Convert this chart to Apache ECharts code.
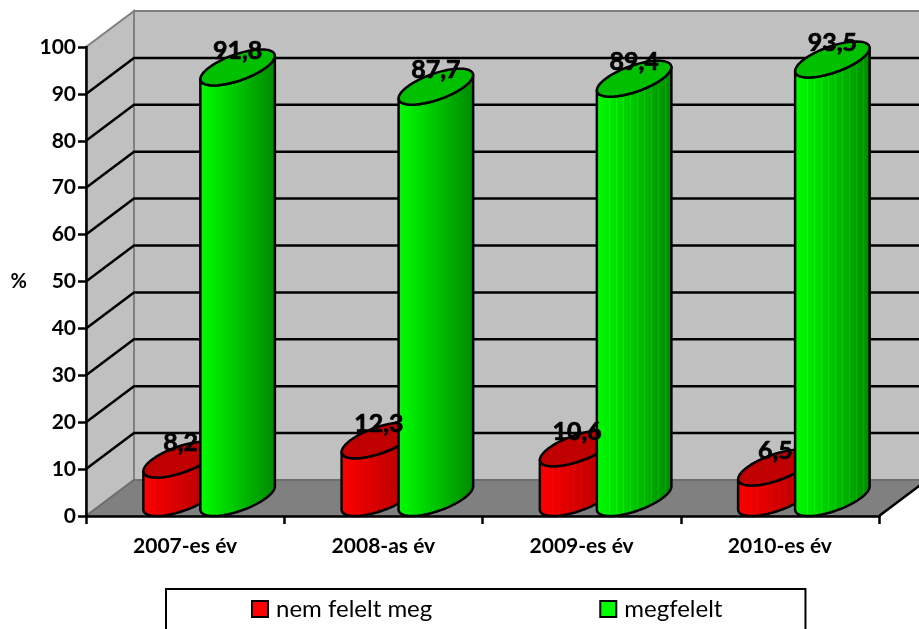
<!DOCTYPE html>
<html>
<head>
<meta charset="utf-8">
<title>Chart</title>
<script src="https://cdn.jsdelivr.net/npm/echarts@6/dist/echarts.min.js"></script>
<style>
  html, body { margin: 0; padding: 0; background: #fff; }
  #chart { width: 919px; height: 629px; }
</style>
</head>
<body>
<div id="chart"></div>
<script>
// adatok
var categories = ['2007-es év', '2008-as év', '2009-es év', '2010-es év'];
var nemFelelt = [8.2, 12.3, 10.6, 6.5];
var megfelelt = [91.8, 87.7, 89.4, 93.5];
var gridValues = [10, 20, 30, 40, 50, 60, 70, 80, 90];

var FONT = 'Lato';
// a 3D doboz melysege pixelben
var DEPTH_X = 48;
var DEPTH_Y = -36;
var AX = 28.5; // henger fel szelessege
var BAR_SHIFT = 28.5;
var LINE_W = 2.5;

var chart = echarts.init(document.getElementById('chart'));

// henger oldala: sotetedo szin, vekony vilagos csikokkal
function stripes(light, dark) {
  var stops = [];
  var n = 11;
  function mix(t) {
    return echarts.color.lerp(Math.max(0, Math.min(1, t)), [light, dark]);
  }
  for (var i = 0; i < n; i++) {
    var a = i / n;
    var b = (i + 1) / n;
    var end = b - 0.008;
    stops.push({ offset: a, color: mix(a) });
    stops.push({ offset: end, color: mix(end) });
    if (i > 0 && i < n - 1) {
      stops.push({ offset: end, color: mix(a - 0.12) });
      stops.push({ offset: b, color: mix(a - 0.12) });
    } else {
      stops.push({ offset: b, color: mix(b) });
    }
  }
  return stops;
}

function arc(cx, cy, from, to) {
  var pts = [];
  var steps = 48;
  for (var i = 0; i <= steps; i++) {
    var t = from + (to - from) * i / steps;
    pts.push([
      cx + AX * Math.cos(t) + (DEPTH_X / 2) * Math.sin(t),
      cy + (DEPTH_Y / 2) * Math.sin(t)
    ]);
  }
  return pts;
}

// henger rajzolasa
function cylinderItem(shift, sideStops, topColor) {
  return function (params, api) {
    var base = api.coord([api.value(0), 0]);
    var top = api.coord([api.value(0), api.value(1)]);
    var cx = base[0] + DEPTH_X / 2 + shift;
    var by = base[1] + DEPTH_Y / 2;
    var ty = top[1] + DEPTH_Y / 2;
    var t0 = Math.atan2(DEPTH_X / 2, AX);
    var side = arc(cx, by, t0, t0 - Math.PI).concat(arc(cx, ty, t0 - Math.PI, t0));
    var lid = arc(cx, ty, 0, Math.PI * 2);
    var line = { stroke: '#000', lineWidth: LINE_W, lineJoin: 'round' };
    return {
      type: 'group',
      children: [{
        type: 'polygon',
        shape: { points: side },
        style: Object.assign({ fill: new echarts.graphic.LinearGradient(0, 0, 1, 0, sideStops) }, line)
      }, {
        type: 'polygon',
        shape: { points: lid },
        style: Object.assign({ fill: topColor }, line)
      }]
    };
  };
}

function labelItem(shift) {
  return function (params, api) {
    var top = api.coord([api.value(0), api.value(1)]);
    return {
      type: 'text',
      style: {
        text: String(api.value(1)).replace('.', ','),
        x: top[0] + DEPTH_X / 2 + shift,
        y: top[1] + DEPTH_Y / 2 - 4,
        align: 'center',
        verticalAlign: 'bottom',
        fontFamily: FONT,
        fontWeight: 'bold',
        fontSize: 25,
        fill: '#000',
        stroke: '#000',
        lineWidth: 0.7
      }
    };
  };
}

function toData(values) {
  return values.map(function (v, i) { return [i, v]; });
}

var option = {
  animation: false,
  textStyle: { fontFamily: FONT },
  grid: { left: 86, right: 40, top: 47, bottom: 113 },
  legend: {
    left: 166,
    top: 589,
    padding: [8, 83, 30, 85],
    itemGap: 167,
    itemWidth: 16,
    itemHeight: 16,
    borderColor: '#000',
    borderWidth: 2,
    textStyle: { fontFamily: FONT, fontSize: 24, color: '#000', padding: [0, 0, 0, 3] },
    data: [
      { name: 'nem felelt meg', icon: 'rect', itemStyle: { color: '#ff0000', borderColor: '#000', borderWidth: 2 } },
      { name: 'megfelelt', icon: 'rect', itemStyle: { color: '#00ff00', borderColor: '#000', borderWidth: 2 } }
    ]
  },
  xAxis: {
    type: 'category',
    data: categories,
    z: 1,
    axisLine: { lineStyle: { color: '#000', width: LINE_W } },
    axisTick: { show: true, length: 8, lineStyle: { color: '#000', width: LINE_W } },
    axisLabel: { color: '#000', fontFamily: FONT, fontWeight: 'bold', fontSize: 21, margin: 20 }
  },
  yAxis: {
    type: 'value',
    min: 0,
    max: 100,
    interval: 10,
    z: 1,
    name: '%',
    nameLocation: 'middle',
    nameRotate: 0,
    nameGap: 59,
    nameTextStyle: { color: '#000', fontFamily: FONT, fontWeight: 'bold', fontSize: 20, padding: [6, 0, 0, 0] },
    splitLine: { show: false },
    axisLine: { show: true, lineStyle: { color: '#000', width: LINE_W } },
    axisTick: { show: true, length: 8, lineStyle: { color: '#000', width: LINE_W } },
    axisLabel: { color: '#000', fontFamily: FONT, fontWeight: 'bold', fontSize: 21, margin: 10, padding: [5, 0, 0, 0] }
  },
  series: [{
    // falak es padlo
    type: 'custom',
    name: 'falak',
    z: 0,
    silent: true,
    data: [[0, 0]],
    encode: { x: 0, y: 1 },
    renderItem: function (params, api) {
      var band = api.size([1, 0])[0];
      var o = api.coord([0, 0]);
      var t = api.coord([0, 100]);
      var left = o[0] - band / 2;
      var right = left + band * categories.length;
      var gray = { stroke: '#808080', lineWidth: 2 };
      return {
        type: 'group',
        children: [{
          type: 'polygon',
          shape: { points: [[left + DEPTH_X, t[1] + DEPTH_Y], [right + DEPTH_X, t[1] + DEPTH_Y], [right + DEPTH_X, o[1] + DEPTH_Y], [left + DEPTH_X, o[1] + DEPTH_Y]] },
          style: Object.assign({ fill: '#c0c0c0' }, gray)
        }, {
          type: 'polygon',
          shape: { points: [[left, t[1]], [left + DEPTH_X, t[1] + DEPTH_Y], [left + DEPTH_X, o[1] + DEPTH_Y], [left, o[1]]] },
          style: Object.assign({ fill: '#c0c0c0' }, gray)
        }, {
          type: 'polygon',
          shape: { points: [[left, o[1]], [left + DEPTH_X, o[1] + DEPTH_Y], [right + DEPTH_X, o[1] + DEPTH_Y], [right, o[1]]] },
          style: { fill: '#808080', stroke: '#6e6e6e', lineWidth: 2 }
        }, {
          type: 'line',
          shape: { x1: right, y1: o[1], x2: right + DEPTH_X, y2: o[1] + DEPTH_Y },
          style: { stroke: '#000', lineWidth: LINE_W }
        }]
      };
    }
  }, {
    // racsvonalak
    type: 'custom',
    name: 'racs',
    z: 0,
    silent: true,
    data: gridValues.map(function (v) { return [0, v]; }),
    encode: { x: 0, y: 1 },
    renderItem: function (params, api) {
      var band = api.size([1, 0])[0];
      var p = api.coord([0, api.value(1)]);
      var left = p[0] - band / 2;
      var right = left + band * categories.length;
      return {
        type: 'polyline',
        z2: 5,
        shape: { points: [[left, p[1]], [left + DEPTH_X, p[1] + DEPTH_Y], [right + DEPTH_X, p[1] + DEPTH_Y]] },
        style: { fill: null, stroke: '#000', lineWidth: LINE_W }
      };
    }
  }, {
    type: 'custom',
    name: 'nem felelt meg',
    z: 2,
    silent: true,
    itemStyle: { color: '#ff0000' },
    data: toData(nemFelelt),
    encode: { x: 0, y: 1 },
    renderItem: cylinderItem(-BAR_SHIFT, stripes('#ff0000', '#a80000'), '#c00000')
  }, {
    type: 'custom',
    name: 'megfelelt',
    z: 3,
    silent: true,
    itemStyle: { color: '#00ff00' },
    data: toData(megfelelt),
    encode: { x: 0, y: 1 },
    renderItem: cylinderItem(BAR_SHIFT, stripes('#00ff00', '#008800'), '#00c000')
  }, {
    type: 'custom',
    name: 'cimke1',
    z: 4,
    silent: true,
    data: toData(nemFelelt),
    encode: { x: 0, y: 1 },
    renderItem: labelItem(-BAR_SHIFT)
  }, {
    type: 'custom',
    name: 'cimke2',
    z: 4,
    silent: true,
    data: toData(megfelelt),
    encode: { x: 0, y: 1 },
    renderItem: labelItem(BAR_SHIFT)
  }]
};

chart.setOption(option);
</script>
</body>
</html>
